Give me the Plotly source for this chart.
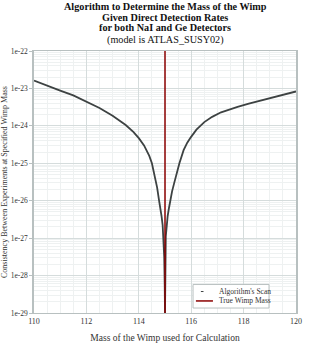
import plotly.graph_objects as go

# values
mass = [110, 110.5, 111, 111.5, 112, 112.5, 113, 113.5, 113.8, 114.0,
        114.2, 114.4, 114.5, 114.6, 114.7, 114.77, 114.83, 114.87, 114.91, 114.94,
        114.97, 114.99, 115.0, 115.01, 115.03, 115.06, 115.10, 115.15, 115.20, 115.27,
        115.35, 115.45, 115.55, 115.71, 115.85, 115.99, 116.2, 116.5, 116.8, 117.14,
        117.45, 117.77, 118.2, 118.64, 119.05, 119.5, 120]
consistency = [1.62e-23, 1.17e-23, 8.7e-24, 6.5e-24, 4.5e-24, 3.0e-24, 1.86e-24, 1.05e-24, 6.8e-25, 4.7e-25,
               3.0e-25, 1.58e-25, 1.0e-25, 5.0e-26, 2.24e-26, 1.05e-26, 6.3e-27, 3.8e-27, 2.24e-27, 1.12e-27,
               3.2e-28, 5e-29, 1e-29, 5e-29, 1.12e-27, 2.24e-27, 3.8e-27, 6.3e-27, 1.05e-26, 1.78e-26,
               2.95e-26, 5.6e-26, 1.0e-25, 2.24e-25, 3.55e-25, 5.0e-25, 7.9e-25, 1.26e-24, 1.74e-24, 2.3e-24,
               2.75e-24, 3.2e-24, 3.9e-24, 4.7e-24, 5.75e-24, 6.9e-24, 8.3e-24]
true_mass = 115
y_ticks = [1e-22, 1e-23, 1e-24, 1e-25, 1e-26, 1e-27, 1e-28, 1e-29]
y_labels = ['1e-22', '1e-23', '1e-24', '1e-25', '1e-26', '1e-27', '1e-28', '1e-29']
series_names = ["Algorithm's Scan", 'True Wimp Mass']
title_lines = ['<b>Algorithm to Determine the Mass of the Wimp</b>',
               '<b>Given Direct Detection Rates</b>',
               '<b>for both NaI and Ge Detectors</b>',
               '(model is ATLAS_SUSY02)']

font = 'Liberation Serif'
scan_color = '#3d4242'
true_color = '#8b0000'

fig = go.Figure()
fig.add_trace(go.Scatter(x=mass, y=consistency, mode='lines', name=series_names[0],
                         line=dict(color=scan_color, width=1.8), showlegend=False))
fig.add_trace(go.Scatter(x=[true_mass, true_mass], y=[1e-29, 1e-22], mode='lines',
                         name=series_names[1], line=dict(color=true_color, width=1.5), showlegend=False))

# title lines stacked above the plot area
for line, shift in zip(title_lines, [44.5, 34, 23.5, 11.5]):
  fig.add_annotation(text=line, xref='paper', yref='paper', x=0.5, y=1, xanchor='center',
                     yanchor='middle', yshift=shift, showarrow=False,
                     font=dict(family=font, size=10.2, color='#111'))

# compact legend box in the lower right
fig.add_shape(type='rect', xref='paper', yref='paper', x0=0.607, x1=0.897, y0=0.019, y1=0.109,
              line=dict(color='#b8c0c0', width=1), fillcolor='white', layer='above')
fig.add_shape(type='line', xref='paper', yref='paper', x0=0.637, x1=0.647, y0=0.082, y1=0.082,
              line=dict(color=scan_color, width=1), layer='above')
fig.add_shape(type='line', xref='paper', yref='paper', x0=0.618, x1=0.683, y0=0.046, y1=0.046,
              line=dict(color=true_color, width=1.5), layer='above')
for name, yy in zip(series_names, [0.082, 0.046]):
  fig.add_annotation(text=name, xref='paper', yref='paper', x=0.698, y=yy, xanchor='left',
                     yanchor='middle', showarrow=False, font=dict(family=font, size=7.5, color='#333'))

fig.update_layout(
  width=331, height=343,
  margin=dict(l=34, r=35, t=51, b=30),
  paper_bgcolor='white', plot_bgcolor='white',
  font=dict(family=font, size=8, color='#333'),
  showlegend=False,
)
fig.update_xaxes(range=[110, 120], dtick=2, showline=True, mirror=True, linecolor='#b8c0c0', linewidth=1,
                 gridcolor='#d5dcdc', ticks='', zeroline=False,
                 minor=dict(dtick=0.5, showgrid=True, gridcolor='#eef1f1'), automargin=False,
                 title=dict(text='Mass of the Wimp used for Calculation', font=dict(family=font, size=9.5), standoff=9),
                 tickfont=dict(family=font, size=8))
fig.update_yaxes(type='log', range=[-29, -22], tickvals=y_ticks, ticktext=y_labels,
                 showline=True, mirror=True, linecolor='#b8c0c0', linewidth=1.5,
                 gridcolor='#d5dcdc', ticks='outside', ticklen=3, tickcolor='#b8c0c0',
                 minor=dict(dtick='D1', showgrid=True, gridcolor='#eef1f1'), automargin=False,
                 title=dict(text='Consistency Between Experiments at Specified Wimp Mass', font=dict(family=font, size=8), standoff=2),
                 tickfont=dict(family=font, size=7.5))
fig.write_html('out.html', config={'displayModeBar': False},
               post_script="document.body.style.margin='0';")
